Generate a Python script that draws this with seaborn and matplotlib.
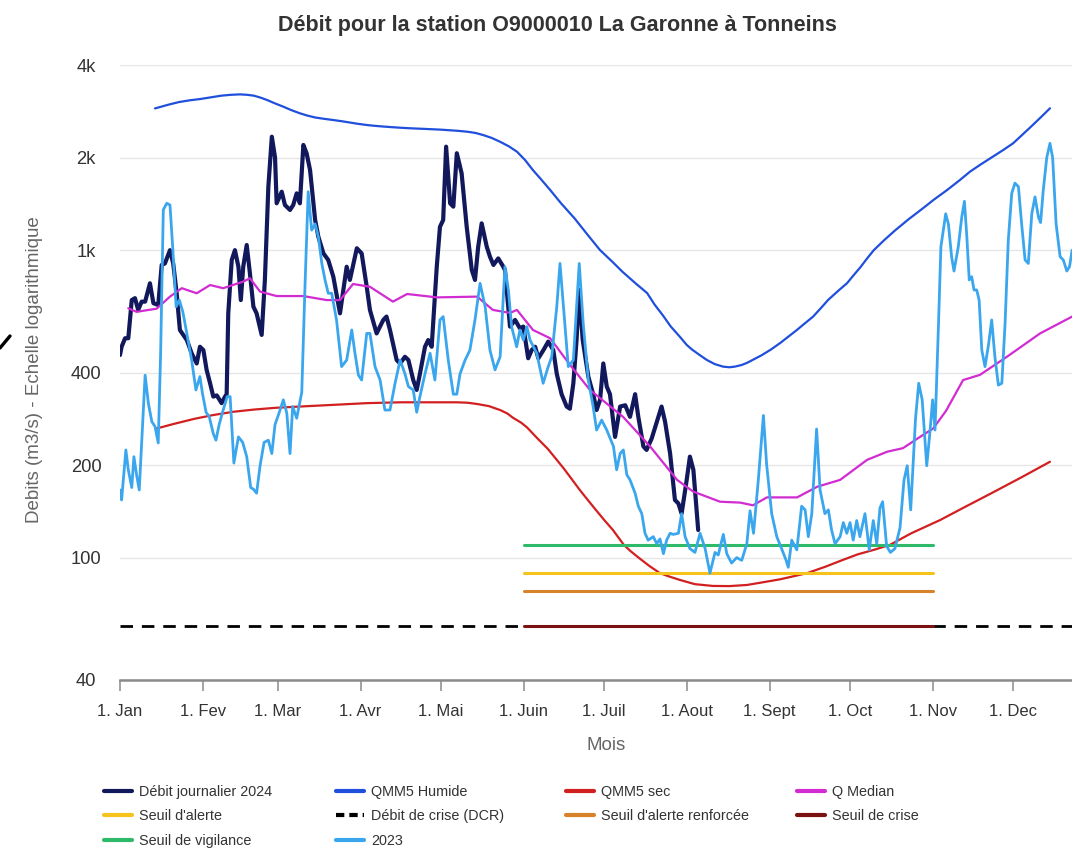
import matplotlib
matplotlib.use("Agg")
import matplotlib.pyplot as plt
from matplotlib.lines import Line2D
from matplotlib.ticker import FixedLocator, FixedFormatter, NullLocator
import numpy as np
import pandas as pd
import seaborn as sns

# ---------------------------------------------------------------- data
# x values are days since 1 January (calendar of a non-leap year)
TITLE = "Débit pour la station O9000010 La Garonne à Tonneins"
month_labels = ["1. Jan", "1. Fev", "1. Mar", "1. Avr", "1. Mai", "1. Juin",
                "1. Juil", "1. Aout", "1. Sept", "1. Oct", "1. Nov", "1. Dec"]
y_ticks = [40, 100, 200, 400, 1000, 2000, 4000]
y_tick_labels = ["40", "100", "200", "400", "1k", "2k", "4k"]

# daily flow 2024 (m3/s)
flow_2024 = [
    (0.0, 456), (0.6, 485), (1.9, 517), (3.1, 517), (4.4, 688), (5.6, 698), (6.8, 639),
    (8.1, 680), (9.4, 680), (11.2, 780), (12.5, 672), (14.3, 663), (15.6, 895), (16.8, 905),
    (18.7, 1000), (19.9, 905), (21.2, 724), (22.4, 550), (25.0, 510), (26.8, 462), (28.7, 428),
    (29.9, 485), (31.2, 473), (32.4, 408), (33.7, 369), (34.9, 334), (36.2, 337), (38.0, 318),
    (39.3, 334), (39.9, 340), (40.5, 623), (41.8, 929), (43.0, 1000), (44.3, 883), (45.2, 688),
    (46.1, 883), (47.4, 1039), (48.6, 841), (49.9, 655), (51.1, 623), (53.0, 530), (54.2, 800),
    (55.5, 1608), (56.8, 2338), (58.0, 2000), (58.6, 1420), (60.5, 1549), (61.7, 1402),
    (63.6, 1351), (64.8, 1402), (66.1, 1530), (67.3, 1420), (68.6, 2198), (69.8, 2066),
    (71.1, 1822), (73.0, 1253), (74.2, 1106), (76.1, 976), (77.9, 929), (79.8, 820),
    (82.3, 623), (84.8, 883), (86.0, 800), (88.6, 1014), (90.4, 976), (92.3, 760), (93.5, 639),
    (96.0, 536), (98.5, 593), (99.7, 608), (101.0, 550), (103.5, 439), (104.8, 428),
    (106.6, 450), (107.9, 439), (109.7, 378), (111.0, 351), (112.2, 396), (114.1, 485),
    (115.3, 510), (116.6, 485), (118.5, 883), (119.7, 1191), (120.9, 1253), (122.0, 2170),
    (123.5, 1420), (124.7, 1385), (126.0, 2066), (127.8, 1778), (129.7, 1191), (131.6, 862),
    (132.8, 800), (134.0, 1026), (135.3, 1222), (137.2, 1026), (138.4, 952), (139.7, 895),
    (141.5, 940), (143.4, 883), (144.0, 862), (145.9, 564), (147.8, 593), (149.6, 557),
    (150.9, 564), (152.7, 445), (154.0, 473), (155.3, 485), (156.5, 445), (158.4, 473),
    (160.2, 504), (162.1, 473), (163.4, 396), (165.2, 340), (167.1, 310), (168.3, 305),
    (169.6, 369), (170.8, 510), (171.8, 742), (173.1, 510), (175.2, 388), (177.0, 340),
    (178.3, 302), (179.6, 326), (180.8, 428), (182.1, 360), (183.3, 340), (185.2, 247),
    (187.1, 310), (189.0, 313), (190.8, 287), (192.7, 340), (193.9, 287), (195.8, 230),
    (197.0, 224), (198.9, 244), (200.7, 274), (202.6, 310), (203.9, 277), (205.8, 218),
    (207.6, 154), (208.9, 150), (210.1, 139), (212.0, 179), (213.2, 213), (214.5, 193),
    (216.3, 123),
]

# daily flow 2023 (m3/s)
flow_2023 = [
    (0.0, 166), (0.6, 154), (2.2, 224), (3.1, 193), (4.4, 169), (5.2, 213), (6.2, 186),
    (7.2, 166), (9.4, 392), (10.6, 318), (11.9, 277), (13.1, 267), (14.3, 236), (15.2, 462),
    (16.2, 1353), (17.5, 1420), (18.7, 1402), (19.7, 1026), (21.0, 655), (22.2, 688),
    (23.5, 630), (25.0, 536), (26.8, 439), (28.4, 351), (29.9, 388), (30.9, 340), (32.2, 297),
    (33.4, 287), (34.9, 253), (35.9, 241), (37.1, 271), (38.6, 302), (40.1, 334), (41.2, 334),
    (42.6, 203), (44.3, 247), (45.9, 237), (47.4, 213), (48.9, 169), (49.9, 167), (51.1, 162),
    (52.4, 199), (53.9, 237), (55.5, 241), (56.8, 218), (58.0, 271), (59.6, 297), (61.1, 326),
    (62.4, 295), (63.6, 218), (64.6, 310), (66.1, 284), (68.0, 345), (69.2, 760), (70.4, 1549),
    (71.7, 1162), (73.0, 1217), (74.2, 1106), (75.5, 905), (76.7, 800), (77.9, 724),
    (79.2, 724), (81.0, 593), (82.9, 418), (84.8, 439), (86.7, 550), (87.9, 462), (89.2, 392),
    (90.4, 378), (92.3, 536), (93.5, 536), (95.4, 418), (97.3, 378), (99.1, 302), (101.0, 302),
    (102.9, 369), (104.8, 439), (106.6, 396), (107.9, 360), (109.7, 351), (111.0, 297),
    (112.2, 334), (114.1, 396), (116.0, 462), (117.8, 378), (119.7, 593), (120.9, 608),
    (122.8, 439), (124.7, 340), (126.0, 340), (127.2, 396), (129.1, 439), (130.9, 473),
    (132.8, 593), (134.7, 780), (136.6, 655), (138.4, 473), (140.3, 408), (142.2, 450),
    (144.0, 883), (145.3, 742), (146.5, 564), (148.4, 485), (149.6, 550), (150.9, 510),
    (152.2, 564), (153.4, 510), (155.9, 462), (158.3, 369), (160.2, 418), (161.5, 450),
    (163.4, 655), (164.6, 905), (165.9, 655), (167.7, 418), (169.6, 439), (170.8, 655),
    (171.8, 905), (173.3, 575), (175.2, 378), (177.0, 310), (178.3, 260), (180.2, 280),
    (182.1, 260), (184.6, 230), (185.8, 193), (187.1, 218), (188.3, 224), (189.6, 186),
    (190.8, 179), (192.7, 162), (193.9, 147), (195.2, 139), (196.4, 120), (197.6, 114),
    (199.5, 117), (200.8, 111), (202.0, 115), (203.3, 103), (204.5, 114), (205.8, 120),
    (207.0, 119), (208.9, 120), (210.1, 139), (211.4, 117), (213.2, 107), (215.1, 104),
    (217.0, 120), (218.9, 107), (220.7, 89), (222.6, 104), (223.8, 102), (225.7, 119),
    (227.0, 103), (228.8, 96), (230.7, 100), (232.6, 98), (234.5, 111), (235.7, 142),
    (237.0, 120), (238.8, 179), (240.7, 290), (241.9, 201), (243.8, 139), (245.7, 117),
    (247.5, 107), (249.2, 98), (250.0, 93), (251.3, 114), (253.2, 106), (255.0, 147),
    (256.3, 143), (257.5, 117), (258.8, 139), (260.6, 262), (261.9, 166), (263.7, 139),
    (265.0, 143), (266.2, 123), (267.5, 111), (269.4, 117), (270.6, 130), (271.9, 120),
    (273.1, 130), (274.3, 114), (275.6, 132), (276.8, 117), (278.7, 139), (280.3, 106),
    (281.8, 132), (283.1, 111), (284.3, 145), (285.3, 152), (286.8, 109), (288.2, 104),
    (289.9, 107), (291.8, 125), (293.3, 179), (294.5, 199), (295.8, 143), (297.6, 283),
    (298.8, 369), (300.1, 326), (301.8, 199), (303.0, 256), (304.0, 326), (304.9, 260),
    (306.2, 575), (307.1, 1026), (308.0, 1162), (308.9, 1313), (309.9, 1217), (311.1, 952),
    (312.0, 855), (313.6, 1026), (314.9, 1280), (315.9, 1441), (316.8, 1106), (317.7, 800),
    (318.6, 820), (319.5, 742), (320.5, 742), (321.4, 688), (322.4, 473), (323.6, 418),
    (324.9, 492), (326.1, 593), (327.3, 450), (328.6, 364), (329.9, 369), (331.1, 575),
    (332.3, 1073), (333.6, 1530), (334.8, 1652), (336.1, 1608), (337.3, 1217), (338.6, 929),
    (339.8, 905), (341.1, 1313), (342.3, 1490), (343.6, 1280), (344.4, 1230), (345.4, 1568),
    (346.7, 2000), (347.9, 2225), (348.9, 2000), (350.2, 1217), (351.7, 952), (352.9, 929),
    (354.2, 855), (355.2, 883), (356.2, 1000),
]

# monthly reference curves (m3/s)
qmm5_humide = [
    (13.1, 2890), (18, 2970), (22, 3030), (26, 3070), (30, 3100), (34, 3140), (38, 3180),
    (41.5, 3200), (44.9, 3210), (47.5, 3200), (50, 3180), (52.5, 3135), (55, 3078),
    (58, 3000), (61, 2930), (64, 2855), (67.3, 2786), (70, 2740), (73, 2700), (76.5, 2672),
    (79.7, 2650), (83, 2625), (86, 2600), (89, 2575), (92.4, 2552), (95, 2538), (98, 2525),
    (101.5, 2512), (104.8, 2501), (108, 2492), (111, 2485), (114, 2479), (117, 2472),
    (120, 2465), (123, 2455), (126.5, 2443), (129.8, 2428), (133, 2405), (135.8, 2368),
    (139, 2318), (142.2, 2251), (145.5, 2175), (148.5, 2090), (151.5, 1965), (154.5, 1820),
    (157.5, 1700), (160.9, 1570), (165, 1420), (170, 1270), (175, 1120), (179.6, 1000),
    (184, 920), (188, 850), (192.5, 785), (197.2, 725), (200, 665), (203, 615), (206, 565),
    (209.5, 522), (212, 492), (214, 475), (217, 455), (219.6, 439), (222.5, 426),
    (225.6, 418), (228, 416), (230, 418), (232.5, 423), (234.6, 430), (237, 441), (240, 455),
    (243.5, 475), (247, 499), (250, 523), (253, 548), (256, 576), (259.3, 608), (262, 645),
    (265, 690), (268.5, 735), (272, 781), (274.5, 830), (277, 880), (279.5, 940), (282, 1000),
    (286, 1080), (290, 1160), (295, 1260), (300, 1360), (304.5, 1460), (309.4, 1568),
    (314, 1685), (318, 1800), (322, 1900), (326, 2000), (330, 2105), (334.1, 2225),
    (337.5, 2370), (341, 2530), (344.5, 2705), (347.9, 2892),
]

qmm5_sec = [
    (13.7, 263), (20, 272), (28, 283), (35, 291), (42.3, 298), (50, 303), (58, 307),
    (67.3, 310), (80, 314), (92.4, 318), (105, 320), (117, 320), (126, 320), (130, 319),
    (133.6, 316), (138, 311), (142.2, 302), (145, 294), (147, 285), (150, 275), (152.3, 265),
    (156, 245), (160, 226), (163, 210), (166, 195), (169, 180), (172, 166), (175, 154),
    (178, 143), (181, 133), (184.4, 123), (188.5, 110), (191, 105), (194, 100), (198, 94),
    (202, 89), (205.5, 86.8), (209.5, 84.6), (215, 82), (221.8, 80.9), (228, 80.8),
    (234.6, 81.5), (240, 83), (246.9, 85), (252, 87), (257, 89), (264, 93.5), (270, 98),
    (276, 102.5), (282, 106), (288, 110), (296, 120), (306.8, 132.5), (316, 146), (326, 162),
    (337, 182), (347.9, 205),
]

q_median = [
    (3.1, 647), (6.2, 630), (13.7, 645), (18.7, 706), (23.1, 752), (28.7, 724), (33.7, 770),
    (38.6, 752), (46.1, 790), (48.6, 810), (52.4, 733), (58.6, 709), (68.6, 709), (77.3, 688),
    (82.3, 688), (87.2, 776), (93.5, 760), (102.1, 680), (107.4, 720), (118.6, 702),
    (133.6, 706), (139.5, 639), (145.9, 625), (148.5, 639), (154.5, 550), (160.9, 517),
    (168.4, 423), (175.8, 351), (188.2, 287), (198.3, 230), (208.4, 179), (214.4, 164),
    (224.5, 152), (232, 151), (236.8, 148), (242, 157), (253.3, 157), (260.8, 170),
    (269.4, 179), (279.5, 208), (287, 221), (292.9, 227), (299.3, 247), (304.2, 263),
    (309, 300), (315.4, 378), (321.7, 393), (331.8, 450), (344.2, 536), (356.2, 608),
]

# regulatory thresholds (m3/s), valid from 1 June to 1 November
seuil_vigilance = 110
seuil_alerte = 89
seuil_alerte_renforcee = 78
seuil_crise = 60
debit_crise_dcr = 60

# ---------------------------------------------------------------- style
sns.set_theme(style="white")
plt.rcParams["font.family"] = ["Liberation Sans", "DejaVu Sans"]

C_2024 = "#12185c"
C_HUM = "#1f4fdc"
C_SEC = "#d22020"
C_MED = "#d12bd1"
C_ALERTE = "#f5c31c"
C_DCR = "#000000"
C_RENF = "#d8822a"
C_CRISE = "#7b1212"
C_VIG = "#2fba6a"
C_2023 = "#3aa6ee"

fig = plt.figure(figsize=(10.72, 8.48), dpi=100)
# the plot area runs to 31 December, slightly past the right edge of the canvas
ax = fig.add_axes([120 / 1072, 1 - 680 / 848, 973 / 1072, 615 / 848])

month_start = list(pd.date_range("2023-01-01", periods=12, freq="MS").dayofyear - 1)
season_start = month_start[5]   # 1 June
season_end = month_start[10]    # 1 November


def curve(pairs, color, lw, z, **kw):
    df = pd.DataFrame(pairs, columns=["jour", "debit"])
    sns.lineplot(data=df, x="jour", y="debit", ax=ax, color=color, linewidth=lw,
                 estimator=None, sort=False, zorder=z,
                 solid_joinstyle="round", solid_capstyle="round", **kw)


def level(value, x0, x1, color, lw, z, **kw):
    df = pd.DataFrame({"jour": [x0, x1], "debit": [value, value]})
    sns.lineplot(data=df, x="jour", y="debit", ax=ax, color=color, linewidth=lw,
                 estimator=None, zorder=z, **kw)


curve(flow_2024, C_2024, 3.0, 3)
curve(qmm5_humide, C_HUM, 1.6, 3.1)
curve(qmm5_sec, C_SEC, 1.6, 3.2)
curve(q_median, C_MED, 1.6, 3.3)
level(seuil_alerte, season_start, season_end, C_ALERTE, 2.2, 3.4)
level(debit_crise_dcr, 0, 364, C_DCR, 2.0, 3.5, dashes=(4.5, 3.2))
level(seuil_alerte_renforcee, season_start, season_end, C_RENF, 2.2, 3.6)
level(seuil_crise, season_start, season_end, C_CRISE, 2.2, 3.7)
level(seuil_vigilance, season_start, season_end, C_VIG, 2.2, 3.8)
curve(flow_2023, C_2023, 2.0, 3.9)

# ---------------------------------------------------------------- axes
ax.set_yscale("log")
ax.set_ylim(40, 4000)
ax.set_xlim(0, 364)
ax.yaxis.set_major_locator(FixedLocator(y_ticks))
ax.yaxis.set_major_formatter(FixedFormatter(y_tick_labels))
ax.yaxis.set_minor_locator(NullLocator())
ax.xaxis.set_major_locator(FixedLocator(month_start))
ax.xaxis.set_major_formatter(FixedFormatter(month_labels))
ax.xaxis.set_minor_locator(NullLocator())

ax.grid(axis="y", color="#e6e6e6", linewidth=1.0, zorder=0)
ax.grid(axis="x", visible=False)
ax.set_axisbelow(True)
for side in ["top", "right", "left"]:
    ax.spines[side].set_visible(False)
ax.spines["bottom"].set_color("#8a8a8a")
ax.spines["bottom"].set_linewidth(1.8)

ax.tick_params(axis="x", which="major", bottom=True, length=8, width=1.1,
               color="#8a8a8a", pad=9.5, labelsize=12, labelcolor="#333333")
# y labels are centred in the left margin (centre 34 px left of the plot)
ax.tick_params(axis="y", which="major", left=False, length=0, pad=24.5,
               labelsize=13.2, labelcolor="#333333")
for lab in ax.get_yticklabels():
    lab.set_horizontalalignment("center")

ax.set_xlabel("Mois", fontsize=13.5, color="#666666", labelpad=13)
ax.set_ylabel("")
fig.text(35 / 1072, 1 - 370 / 848, "Debits (m3/s) - Echelle logarithmique",
         rotation=90, ha="center", va="center", fontsize=13.5, color="#666666")

fig.text(557 / 1072, 1 - 25 / 848, TITLE, ha="center", va="center",
         fontsize=15.5, fontweight="bold", color="#333333")

# short pen stroke at the left margin
fig.add_artist(Line2D([0 / 1072, 10 / 1072], [1 - 348 / 848, 1 - 336 / 848],
                      transform=fig.transFigure, color="black", linewidth=2.4,
                      solid_capstyle="round"))

# ---------------------------------------------------------------- legend
def handle(color, **kw):
    return Line2D([], [], color=color, linewidth=3.0, **kw)


legend_columns = [
    [(handle(C_2024), "Débit journalier 2024"), (handle(C_ALERTE), "Seuil d'alerte"),
     (handle(C_VIG), "Seuil de vigilance")],
    [(handle(C_HUM), "QMM5 Humide"), (handle(C_DCR, linestyle=(0, (2.0, 1.2))), "Débit de crise (DCR)"),
     (handle(C_2023), "2023")],
    [(handle(C_SEC), "QMM5 sec"), (handle(C_RENF), "Seuil d'alerte renforcée")],
    [(handle(C_MED), "Q Median"), (handle(C_CRISE), "Seuil de crise")],
]
col_x = [104, 336, 566, 797]
for x0, items in zip(col_x, legend_columns):
    leg = fig.legend([h for h, _ in items], [t for _, t in items],
                     loc="upper left", bbox_to_anchor=(x0 / 1072, 1 - 785 / 848),
                     frameon=False, fontsize=10.4, handlelength=1.95, handletextpad=0.5,
                     labelspacing=0.72, borderpad=0, borderaxespad=0)
    for t in leg.get_texts():
        t.set_color("#333333")

fig.savefig("out.png", dpi=100)
